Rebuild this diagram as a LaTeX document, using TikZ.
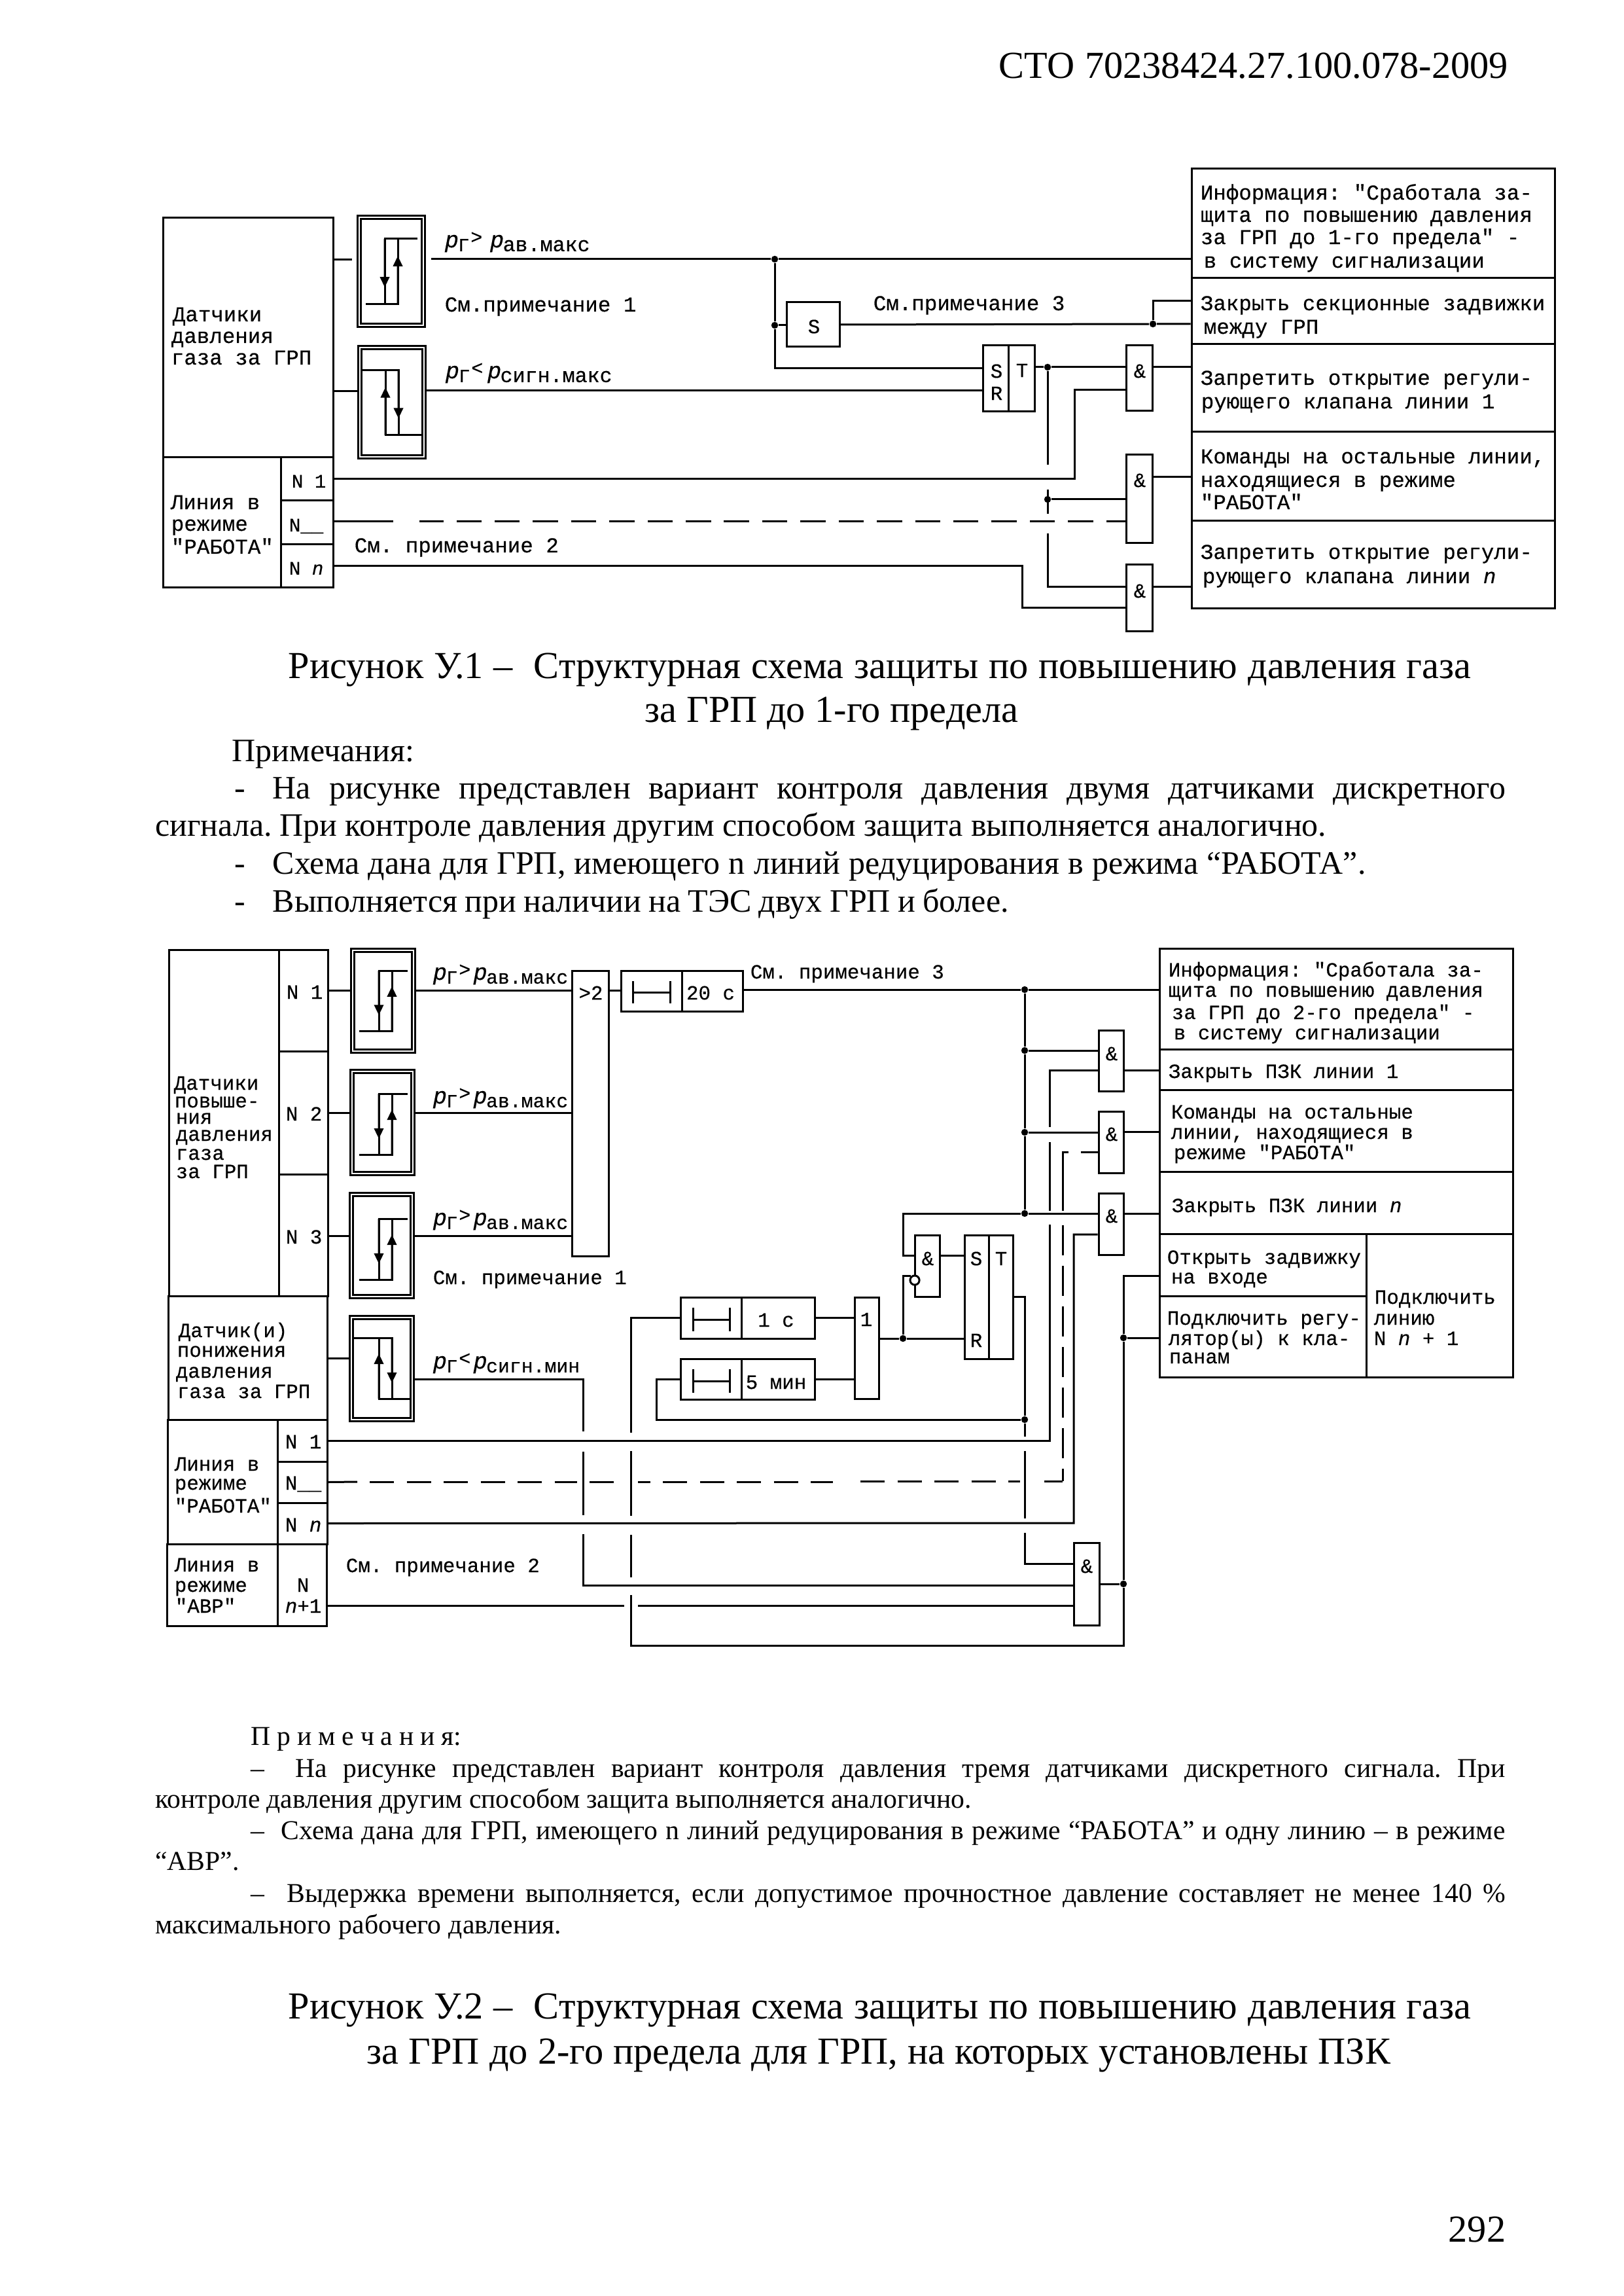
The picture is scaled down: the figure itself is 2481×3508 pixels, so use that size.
\documentclass[tikz,border=0pt]{standalone}
\usepackage{fontspec}
\setmainfont{Liberation Serif}
\setmonofont[FakeBold=0.4]{Liberation Mono}
\usetikzlibrary{arrows.meta,fit,calc}
\frenchspacing
\tikzset{
  %% блоки схем
  blk/.style={draw,line width=0.72pt,inner sep=0pt,fill=white},
  sensbox/.style={draw,double,line width=0.7pt,double distance=0.7pt,inner sep=0pt},
  invdot/.style={circle,draw,line width=0.72pt,fill=white,minimum size=3.4pt,inner sep=0pt},
  jdot/.style={circle,fill=black,minimum size=2.5pt,inner sep=0pt},
  %% соединения
  wire/.style={line width=0.72pt},
  wdashA/.style={line width=0.72pt,dash pattern=on 9.24pt off 4.78pt},
  wdashB/.style={line width=0.72pt,dash pattern=on 8.9pt off 4.66pt},
  wdashV/.style={line width=0.72pt,dash pattern=on 11pt off 3.88pt},
  hyarr/.style={line width=0.72pt,-{Triangle[length=3.8pt,width=3.4pt]}},
  %% подписи
  lblA/.style={font=\ttfamily\fontsize{7.8}{9}\selectfont,anchor=base west,inner sep=0pt},
  lblB/.style={font=\ttfamily\fontsize{7.4}{9}\selectfont,anchor=base west,inner sep=0pt},
  lblN/.style={font=\ttfamily\fontsize{7}{9}\selectfont,anchor=base west,inner sep=0pt},
  lblC/.style={font=\ttfamily\fontsize{7.4}{9}\selectfont,anchor=center,inner sep=0pt},
  capt/.style={font=\fontsize{14}{16}\selectfont,anchor=base west,inner sep=0pt},
  noteA/.style={font=\fontsize{12}{14}\selectfont,anchor=base west,inner sep=0pt},
  noteB/.style={font=\fontsize{10}{12}\selectfont,anchor=base west,inner sep=0pt},
}
\newcommand{\jline}[2]{\makebox[#1][s]{#2}}
%% давление: знак, индекс, зазор перед вторым p, кегль индекса
\newcommand{\prs}[4]{{\fontsize{8.5}{9}\selectfont\textit{p}}\kern-0.2pt%
  \raisebox{-1.4pt}{\fontsize{6.8}{8}\selectfont Г}\kern0.5pt%
  \raisebox{1.4pt}{\fontsize{7.2}{8}\selectfont #1}\kern#3%
  {\fontsize{8.5}{9}\selectfont\textit{p}}\kern-0.4pt\raisebox{-1.4pt}{\fontsize{#4}{9}\selectfont #2}}
%% гистерезис: x вниз, x вверх, y верх, y низ, конец верхней, конец нижней
\newcommand{\hyst}[6]{%
  \draw[wire] (#5,#3) -- (#1,#3) -- (#1,#4);
  \draw[wire] (#6,#4) -- (#2,#4) -- (#2,#3);
  \draw[hyarr] (#1,#3) -- ($(#1,#3)!.74!(#1,#4)$);
  \draw[hyarr] (#2,#4) -- ($(#2,#3)!.26!(#2,#4)$);}
\newcommand{\tmsym}[4]{%
  \draw[wire] (#1,#3) -- (#1,#4) (#2,#3) -- (#2,#4);
  \draw[wire] (#1,{(#3+#4)/2}) -- (#2,{(#3+#4)/2});}
\begin{document}
\begin{tikzpicture}[x=0.24pt,y=-0.24pt]
  \useasboundingbox (0,0) rectangle (2481,3508);

  %% ── шапка страницы ──────────
  \node[capt] (hdr) at (1526,120) {\jline{186.7pt}{СТО 70238424.27.100.078-2009}};

  %% ── рисунок У.1: левые блоки ──────────
  \node[blk,fit={(249,333)(509,699)}] (datA) {};
  \node[blk,fit={(249,699)(429,898)}] (linA) {};
  \node[blk,fit={(429,699)(509,765)}] (nA1) {};
  \node[blk,fit={(429,765)(509,832)}] (nA2) {};
  \node[blk,fit={(429,832)(509,898)}] (nA3) {};
  \node[sensbox,fit={(549,332)(647,497)}] (senA) {};
  \node[sensbox,fit={(550,531)(648,698)}] (senB) {};
  \hyst{588}{608}{365}{465}{638}{559}
  \hyst{609}{589}{566}{665}{553}{644}

  %% логика
  \node[blk,fit={(1202,462)(1283,530)}] (memA) {};
  \node[blk,fit={(1502,528)(1541,629)}] (trAs) {};
  \node[blk,fit={(1541,528)(1581,629)}] (trAt) {};
  \node[blk,fit={(1721,528)(1761,628)}] (andA1) {};
  \node[blk,fit={(1721,695)(1761,830)}] (andA2) {};
  \node[blk,fit={(1721,863)(1761,964)}] (andA3) {};

  %% правые блоки
  \node[blk,fit={(1821,258)(2376,425)}] (infA1) {};
  \node[blk,fit={(1821,425)(2376,526)}] (infA2) {};
  \node[blk,fit={(1821,526)(2376,660)}] (infA3) {};
  \node[blk,fit={(1821,660)(2376,796)}] (infA4) {};
  \node[blk,fit={(1821,796)(2376,930)}] (infA5) {};

  %% точки
  \node[jdot] (jA1) at (1184,396) {};
  \node[jdot] (jA2) at (1184,497) {};
  \node[jdot] (jA3) at (1762,495) {};
  \node[jdot] (jA4) at (1601,561) {};
  \node[jdot] (jA5) at (1601,763) {};

  %% соединения
  \draw[wire] (datA.east |- 0,397) -- (538,397);
  \draw[wire] (659,396) -- (jA1) -- (infA1.west |- jA1);
  \draw[wire] (jA1) -- (jA2) |- (trAs.west |- 0,563);
  \draw[wire] (jA2) -- (memA.west |- jA2);
  \draw[wire] (memA.east) -- (jA3) -- (infA2.west |- jA3);
  \draw[wire] (jA3) |- (infA2.west |- 0,460);
  \draw[wire] (datA.east |- 0,598) -- (senB.west |- 0,598);
  \draw[wire] (senB.east |- 0,597) -- (trAs.west |- 0,597);
  \draw[wire] (trAt.east |- jA4) -- (jA4) -- (andA1.west |- jA4);
  \draw[wire] (andA1.east |- jA4) -- (infA3.west |- jA4);
  \draw[wire] (jA4) -- (1601,710);
  \draw[wire] (1601,748) -- (1601,785);
  \draw[wire] (jA5) -- (andA2.west |- jA5);
  \draw[wire] (1601,815) |- (andA3.west |- 0,897);
  \draw[wire] (nA1.east) -| (1642,596) -- (andA1.west |- 0,596);
  \draw[wire] (nA2.east |- 0,797) -- (601,797);
  \draw[wdashA,dash phase=2.3pt] (andA2.west |- 0,797) -- (641,797);
  \draw[wire] (nA3.east) -| (1562,929) -- (andA3.west |- 0,929);
  \draw[wire] (andA2.east |- 0,729) -- (infA4.west |- 0,729);
  \draw[wire] (andA3.east |- 0,897) -- (infA5.west |- 0,897);

  %% подписи слева
  \node[lblA] (tA1) at (263,491) {Датчики};
  \node[lblA] (tA2) at (261,524) {давления};
  \node[lblA] (tA3) at (261,557) {газа за ГРП};
  \node[lblA] (tA4) at (260,778) {Линия в};
  \node[lblA] (tA5) at (261,811) {режиме};
  \node[lblA] (tA6) at (261,846) {"РАБОТА"};
  \node[lblN] (tA7) at (445,745) {N 1};
  \node[lblN] (tA8) at (441,812) {N\_\_};
  \node[lblN] (tA9) at (441,878) {N \textit{n}};
  \node[lblA] (pA1) at (679,378) {\prs{>}{ав.макс}{2.8pt}{7.6}};
  \node[lblA] (pA2) at (680,578) {\prs{<}{сигн.макс}{1.6pt}{7.6}};
  \node[lblA] (tA10) at (679,476) {См.примечание 1};
  \node[lblA] (tA11) at (541,844) {См. примечание 2};
  \node[lblA] (tA12) at (1334,474) {См.примечание 3};
  %% подписи логики
  \node[lblC] (tL1) at (1244,499) {S};
  \node[lblC] (tL2) at (1523,567) {S};
  \node[lblC] (tL3) at (1523,601) {R};
  \node[lblC] (tL4) at (1562,566) {T};
  \node[lblC] (tL5) at (1742,567) {\&};
  \node[lblC] (tL6) at (1742,734) {\&};
  \node[lblC] (tL7) at (1742,903) {\&};
  %% подписи справа
  \node[lblA] (rA1) at (1834,305) {Информация: "Сработала за-};
  \node[lblA] (rA2) at (1834,339) {щита по повышению давления};
  \node[lblA] (rA3) at (1834,373) {за ГРП до 1-го предела" -};
  \node[lblA] (rA4) at (1839,409) {в систему сигнализации};
  \node[lblA] (rA5) at (1834,474) {Закрыть секционные задвижки};
  \node[lblA] (rA6) at (1839,510) {между ГРП};
  \node[lblA] (rA7) at (1834,588) {Запретить открытие регули-};
  \node[lblA] (rA8) at (1835,624) {рующего клапана линии 1};
  \node[lblA] (rA9) at (1834,708) {Команды на остальные линии,};
  \node[lblA] (rA10) at (1834,744) {находящиеся в режиме};
  \node[lblA] (rA11) at (1834,778) {"РАБОТА"};
  \node[lblA] (rA12) at (1834,854) {Запретить открытие регули-};
  \node[lblA] (rA13) at (1837,891) {рующего клапана линии \textit{n}};

  %% ── подпись и примечания к У.1 ──────────
  \node[capt] (capA1) at (440,1036) {\jline{433.9pt}{Рисунок У.1 –~ Структурная схема защиты по повышению давления газа}};
  \node[capt] (capA2) at (985,1103) {\jline{137pt}{за ГРП до 1-го предела}};
  \node[noteA] (ntA0) at (354,1163) {Примечания:};
  \node[noteA] (dsA1) at (358,1220) {-};
  \node[noteA] (ntA1) at (416,1220) {\jline{452.2pt}{На рисунке представлен вариант контроля давления двумя датчиками дискретного}};
  \node[noteA] (ntA2) at (236.5,1277) {\jline{429.6pt}{сигнала. При контроле давления другим способом защита выполняется аналогично.}};
  \node[noteA] (dsA3) at (358,1335) {-};
  \node[noteA] (ntA3) at (416,1335) {\jline{401pt}{Схема дана для ГРП, имеющего n линий редуцирования в режима “РАБОТА”.}};
  \node[noteA] (dsA4) at (358,1393) {-};
  \node[noteA] (ntA4) at (416,1393) {\jline{270pt}{Выполняется при наличии на ТЭС двух ГРП и более.}};

  %% ── рисунок У.2: левые блоки ──────────
  \node[blk,fit={(258,1451)(426,1980)}] (datB) {};
  \node[blk,fit={(426,1451)(501,1606)}] (nB1) {};
  \node[blk,fit={(426,1606)(501,1794)}] (nB2) {};
  \node[blk,fit={(426,1794)(501,1980)}] (nB3) {};
  \node[blk,fit={(257,1980)(500,2169)}] (datC) {};
  \node[blk,fit={(256,2169)(424,2359)}] (linB) {};
  \node[blk,fit={(424,2169)(500,2233)}] (nB4) {};
  \node[blk,fit={(424,2233)(500,2296)}] (nB5) {};
  \node[blk,fit={(424,2296)(500,2359)}] (nB6) {};
  \node[blk,fit={(255,2359)(424,2484)}] (avrB) {};
  \node[blk,fit={(424,2359)(499,2484)}] (nB7) {};
  \node[sensbox,fit={(539,1452)(632,1606)}] (senC) {};
  \node[sensbox,fit={(538,1637)(631,1793)}] (senD) {};
  \node[sensbox,fit={(537,1825)(630,1981)}] (senE) {};
  \node[sensbox,fit={(537,2013)(630,2169)}] (senF) {};
  \hyst{579}{599}{1483}{1575}{623}{549}
  \hyst{579}{599}{1671}{1764}{623}{549}
  \hyst{579}{599}{1862}{1955}{623}{549}
  \hyst{599}{579}{2044}{2137}{541}{628}

  %% логика
  \node[blk,fit={(874,1483)(930,1919)}] (majB) {};
  \node[blk,fit={(949,1483)(1042,1545)}] (tmA) {};
  \node[blk,fit={(1042,1483)(1135,1545)}] (tvA) {};
  \node[blk,fit={(1040,1982)(1133,2045)}] (tmB) {};
  \node[blk,fit={(1133,1982)(1245,2045)}] (tvB) {};
  \node[blk,fit={(1040,2076)(1133,2138)}] (tmC) {};
  \node[blk,fit={(1133,2076)(1245,2138)}] (tvC) {};
  \tmsym{967}{1024}{1499}{1533}
  \tmsym{1059}{1115}{1998}{2034}
  \tmsym{1059}{1115}{2092}{2128}
  \node[blk,fit={(1306,1982)(1343,2137)}] (orrB) {};
  \node[blk,fit={(1398,1887)(1436,1981)}] (andS) {};
  \node[blk,fit={(1474,1887)(1511,2076)}] (trBs) {};
  \node[blk,fit={(1511,1887)(1548,2076)}] (trBt) {};
  \node[blk,fit={(1679,1574)(1717,1667)}] (andB1) {};
  \node[blk,fit={(1679,1698)(1717,1792)}] (andB2) {};
  \node[blk,fit={(1679,1823)(1717,1917)}] (andB3) {};
  \node[blk,fit={(1641,2357)(1680,2483)}] (andB4) {};
  \node[invdot] (invS) at (1398,1956) {};

  %% правые блоки
  \node[blk,fit={(1772,1449)(2312,1603)}] (infB1) {};
  \node[blk,fit={(1772,1603)(2312,1665)}] (infB2) {};
  \node[blk,fit={(1772,1665)(2312,1790)}] (infB3) {};
  \node[blk,fit={(1772,1790)(2312,1885)}] (infB4) {};
  \node[blk,fit={(1772,1885)(2088,1980)}] (infB5) {};
  \node[blk,fit={(1772,1980)(2088,2104)}] (infB6) {};
  \node[blk,fit={(2088,1885)(2312,2104)}] (infB7) {};

  %% точки
  \node[jdot] (jB1) at (1566,1512) {};
  \node[jdot] (jB2) at (1566,1605) {};
  \node[jdot] (jB3) at (1566,1730) {};
  \node[jdot] (jB4) at (1566,1854) {};
  \node[jdot] (jB5) at (1717,2420) {};
  \node[jdot] (jB6) at (1717,2044) {};
  \node[jdot] (jB7) at (1380,2045) {};
  \node[jdot] (jB8) at (1566,2169) {};

  %% соединения датчиков
  \draw[wire] (nB1.east |- 0,1513) -- (senC.west |- 0,1513);
  \draw[wire] (nB2.east |- 0,1700) -- (senD.west |- 0,1700);
  \draw[wire] (nB3.east |- 0,1888) -- (senE.west |- 0,1888);
  \draw[wire] (datC.east |- 0,2075) -- (senF.west |- 0,2075);
  \draw[wire] (senC.east |- 0,1513) -- (majB.west |- 0,1513);
  \draw[wire] (senD.east |- 0,1700) -- (majB.west |- 0,1700);
  \draw[wire] (senE.east |- 0,1888) -- (majB.west |- 0,1888);
  \draw[wire] (majB.east |- 0,1513) -- (tmA.west |- 0,1513);
  \draw[wire] (tvA.east |- jB1) -- (jB1) -- (infB1.west |- jB1);
  \draw[wire] (jB1) -- (jB2) -- (jB3) -- (jB4);
  \draw[wire] (jB2) -- (andB1.west |- jB2);
  \draw[wire] (jB3) -- (andB2.west |- jB3);
  \draw[wire] (andB3.west |- jB4) -- (jB4) -| (1380,1918) -- (andS.west |- 0,1918);
  \draw[wire] (andB1.east |- 0,1635) -- (infB2.west |- 0,1635);
  \draw[wire] (andB2.east |- 0,1729) -- (infB3.west |- 0,1729);
  \draw[wire] (andB3.east |- 0,1854) -- (infB4.west |- 0,1854);
  %% линии N 1 ... N n+1
  \draw[wire] (andB1.west |- 0,1635) -| (1604,1722);
  \draw[wire] (1604,1745) -- (1604,1850);
  \draw[wire] (nB4.east) -| (1604,1871);
  \draw[wire] (andB2.west |- 0,1760) -- (1652,1760);
  \draw[wire] (1633,1760) -| (1624,1850);
  \draw[wdashV] (1624,1872) -- (1624,2263);
  \draw[wire] (1624,2263) -- (1596,2263);
  \draw[wire] (andB3.west |- 0,1886) -| (1641,2327) -- (nB6.east);
  \draw[wire] (nB5.east) -- (546,2264);
  \draw[wdashB] (565,2264) -- (882,2264);
  \draw[wire] (901,2264) -- (938,2264);
  \draw[wire] (975,2264) -- (994,2264);
  \draw[wdashB] (1013,2264) -- (1273,2264);
  \draw[wdashB] (1315,2263) -- (1559,2263);
  \draw[wire] (nB7.east |- 0,2453) -- (954,2453);
  \draw[wire] (975,2453) -- (andB4.west |- 0,2453);
  \draw[wire] (andB4.east |- jB5) -- (jB5);
  %% обходные вертикали
  \draw[wire] (senF.east |- 0,2107) -| (891,2187);
  \draw[wire] (891,2218) -- (891,2315);
  \draw[wire] (891,2344) |- (andB4.west |- 0,2422);
  \draw[wire] (tmB.west) -| (964,2189);
  \draw[wire] (964,2217) -- (964,2316);
  \draw[wire] (964,2345) -- (964,2410);
  \draw[wire] (964,2437) |- (1717,2514) -- (jB5) -- (jB6) |- (infB5.west |- 0,1949);
  \draw[wire] (jB6) -- (infB6.west |- jB6);
  %% триггер и выдержки
  \draw[wire] (tvB.east) -- (orrB.west |- tvB.east);
  \draw[wire] (tvC.east) -- (orrB.west |- tvC.east);
  \draw[wire] (orrB.east |- jB7) -- (jB7) -- (trBs.west |- jB7);
  \draw[wire] (jB7) |- (invS.north west);
  \draw[wire] (andS.east |- 0,1918) -- (trBs.west |- 0,1918);
  \draw[wire] (trBt.east |- 0,1981) -| (jB8) -- (1566,2195);
  \draw[wire] (1566,2217) -- (1566,2320);
  \draw[wire] (1566,2342) |- (andB4.west |- 0,2389);
  \draw[wire] (jB8) -| (1003,2107) -- (tmC.west);

  %% подписи слева
  \node[lblB] (tB1) at (265,1665) {Датчики};
  \node[lblB] (tB2) at (266,1692) {повыше-};
  \node[lblB] (tB3) at (268,1717) {ния};
  \node[lblB] (tB4) at (268,1743) {давления};
  \node[lblB] (tB5) at (268,1772) {газа};
  \node[lblB] (tB6) at (268,1800) {за ГРП};
  \node[lblB] (tB7) at (437,1526) {N 1};
  \node[lblB] (tB8) at (436,1712) {N 2};
  \node[lblB] (tB9) at (436,1900) {N 3};
  \node[lblB] (tB10) at (272,2043) {Датчик(и)};
  \node[lblB] (tB11) at (270,2073) {понижения};
  \node[lblB] (tB12) at (268,2105) {давления};
  \node[lblB] (tB13) at (270,2136) {газа за ГРП};
  \node[lblB] (tB14) at (266,2247) {Линия в};
  \node[lblB] (tB15) at (266,2276) {режиме};
  \node[lblB] (tB16) at (266,2311) {"РАБОТА"};
  \node[lblB] (tB17) at (435,2213) {N 1};
  \node[lblB] (tB18) at (435,2276) {N\_\_};
  \node[lblB] (tB19) at (435,2340) {N \textit{n}};
  \node[lblB] (tB20) at (266,2401) {Линия в};
  \node[lblB] (tB21) at (266,2432) {режиме};
  \node[lblB] (tB22) at (267,2464) {"АВР"};
  \node[lblB] (tB23) at (453,2432) {N};
  \node[lblB] (tB24) at (435,2464) {\textit{n}+1};
  \node[lblB] (pB1) at (661,1497) {\prs{>}{ав.макс}{1pt}{7.15}};
  \node[lblB] (pB2) at (661,1686) {\prs{>}{ав.макс}{1pt}{7.15}};
  \node[lblB] (pB3) at (661,1872) {\prs{>}{ав.макс}{1pt}{7.15}};
  \node[lblB] (pB4) at (661,2091) {\prs{<}{сигн.мин}{1pt}{7.15}};
  \node[lblB] (tB25) at (661,1962) {См. примечание 1};
  \node[lblB] (tB26) at (528,2402) {См. примечание 2};
  \node[lblB] (tB27) at (1146,1495) {См. примечание 3};
  %% подписи логики
  \node[lblC] (tM1) at (903,1517) {>2};
  \node[lblC] (tM2) at (1086,1517) {20 с};
  \node[lblC] (tM3) at (1186,2017) {1 с};
  \node[lblC] (tM4) at (1186,2112) {5 мин};
  \node[lblC] (tM5) at (1324,2016) {1};
  \node[lblC] (tM6) at (1418,1923) {\&};
  \node[lblC] (tM7) at (1492,1923) {S};
  \node[lblC] (tM8) at (1530,1923) {T};
  \node[lblC] (tM9) at (1492,2048) {R};
  \node[lblC] (tM10) at (1699,1610) {\&};
  \node[lblC] (tM11) at (1699,1733) {\&};
  \node[lblC] (tM12) at (1699,1858) {\&};
  \node[lblC] (tM13) at (1661,2393) {\&};
  %% подписи справа
  \node[lblB] (rB1) at (1785,1492) {Информация: "Сработала за-};
  \node[lblB] (rB2) at (1785,1523) {щита по повышению давления};
  \node[lblB] (rB3) at (1790,1557) {за ГРП до 2-го предела" -};
  \node[lblB] (rB4) at (1793,1588) {в систему сигнализации};
  \node[lblB] (rB5) at (1785,1647) {Закрыть ПЗК линии 1};
  \node[lblB] (rB6) at (1789,1709) {Команды на остальные};
  \node[lblB] (rB7) at (1789,1740) {линии, находящиеся в};
  \node[lblB] (rB8) at (1793,1771) {режиме "РАБОТА"};
  \node[lblB] (rB9) at (1790,1852) {Закрыть ПЗК линии \textit{n}};
  \node[lblB] (rB10) at (1783,1931) {Открыть задвижку};
  \node[lblB] (rB11) at (1789,1961) {на входе};
  \node[lblB] (rB12) at (1783,2024) {Подключить регу-};
  \node[lblB] (rB13) at (1785,2055) {лятор(ы) к кла-};
  \node[lblB] (rB14) at (1786,2083) {панам};
  \node[lblB] (rB15) at (2100,1992) {Подключить};
  \node[lblB] (rB16) at (2099,2024) {линию};
  \node[lblB] (rB17) at (2099,2055) {N \textit{n} + 1};

  %% ── примечания и подпись к У.2 ──────────
  \node[noteB] (ntB0) at (382.6,2666) {\jline{77.3pt}{П р и м е ч а н и я:}};
  \node[noteB] (dsB1) at (382.6,2715) {–};
  \node[noteB] (ntB1) at (451,2715) {\jline{443.8pt}{На рисунке представлен вариант контроля давления тремя датчиками дискретного сигнала. При}};
  \node[noteB] (ntB2) at (236.5,2762) {\jline{299.5pt}{контроле давления другим способом защита выполняется аналогично.}};
  \node[noteB] (dsB3) at (382.6,2810) {–};
  \node[noteB] (ntB3) at (429,2810) {\jline{449pt}{Схема дана для ГРП, имеющего n линий редуцирования в режиме “РАБОТА” и одну линию – в режиме}};
  \node[noteB] (ntB4) at (236.5,2857) {“АВР”.};
  \node[noteB] (dsB5) at (382.6,2906) {–};
  \node[noteB] (ntB5) at (438,2906) {\jline{446.9pt}{Выдержка времени выполняется, если допустимое прочностное давление составляет не менее 140 \%}};
  \node[noteB] (ntB6) at (236.5,2954) {\jline{149pt}{максимального рабочего давления.}};
  \node[capt] (capB1) at (440,3084) {\jline{433.9pt}{Рисунок У.2 –~ Структурная схема защиты по повышению давления газа}};
  \node[capt] (capB2) at (560,3153) {\jline{375.4pt}{за ГРП до 2-го предела для ГРП, на которых установлены ПЗК}};
  \node[capt,anchor=base east] (pgno) at (2302,3425) {292};
\end{tikzpicture}
\end{document}
